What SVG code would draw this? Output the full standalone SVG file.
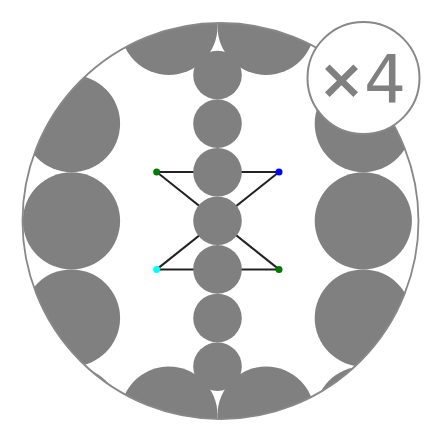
<svg xmlns="http://www.w3.org/2000/svg" width="440" height="440" viewBox="0 0 440 440">
<style>
.big{fill:#808080}
.col{fill:#808080}
.edge{stroke:#222;stroke-width:2;fill:none}
.outline{fill:none;stroke:#888;stroke-width:1.8}
</style>
<defs>
<clipPath id="disc"><circle cx="220.5" cy="221" r="198"/></clipPath>
</defs>
<rect width="440" height="440" fill="#fff"/>
<g id="ring" clip-path="url(#disc)">
<circle class="big" cx="71.5" cy="123.6" r="48.6"/>
<circle class="big" cx="71.5" cy="220.8" r="48.6"/>
<circle class="big" cx="71.5" cy="318" r="48.6"/>
<circle class="big" cx="363.3" cy="123.6" r="48.6"/>
<circle class="big" cx="363.3" cy="220.8" r="48.6"/>
<circle class="big" cx="363.3" cy="318" r="48.6"/>
<circle class="big" cx="168.9" cy="26.4" r="48.6"/>
<circle class="big" cx="266.1" cy="26.4" r="48.6"/>
<circle class="big" cx="168.9" cy="415.2" r="48.6"/>
<circle class="big" cx="266.1" cy="415.2" r="48.6"/>
<circle class="big" cx="71.5" cy="415.2" r="48.6"/>
<circle class="big" cx="363.3" cy="415.2" r="48.6"/>
</g>
<g id="connectors">
<line class="edge" x1="156.7" y1="172" x2="279" y2="172"/>
<line class="edge" x1="156.7" y1="269.4" x2="279" y2="269.4"/>
<line class="edge" x1="156.7" y1="172" x2="279" y2="269.4"/>
<line class="edge" x1="279" y1="172" x2="156.7" y2="269.4"/>
</g>
<g id="column">
<circle class="col" cx="217.5" cy="75" r="24.3"/>
<circle class="col" cx="217.5" cy="123.6" r="24.3"/>
<circle class="col" cx="217.5" cy="172.2" r="24.3"/>
<circle class="col" cx="217.5" cy="220.8" r="24.3"/>
<circle class="col" cx="217.5" cy="269.4" r="24.3"/>
<circle class="col" cx="217.5" cy="318" r="24.3"/>
<circle class="col" cx="217.5" cy="366.6" r="24.3"/>
</g>
<g id="dot-tl"><circle cx="156.7" cy="172" r="3.5" fill="#007a00"/></g>
<g id="dot-tr"><circle cx="279" cy="172" r="3.5" fill="#0000ff"/></g>
<g id="dot-bl"><circle cx="156.7" cy="269.4" r="3.5" fill="#00ffff"/></g>
<g id="dot-br"><circle cx="279" cy="269.4" r="3.5" fill="#007a00"/></g>
<circle class="outline" cx="220.5" cy="221" r="198"/>
<g id="badge">
<circle cx="363.5" cy="78" r="56" fill="#fff" stroke="#888" stroke-width="2"/>
<text y="102" text-anchor="middle" font-family="DejaVu Sans, sans-serif" fill="#808080"><tspan x="341.5" y="98" font-size="56" font-weight="bold">×</tspan><tspan x="385" y="102" font-size="66">4</tspan></text>
</g>
</svg>
